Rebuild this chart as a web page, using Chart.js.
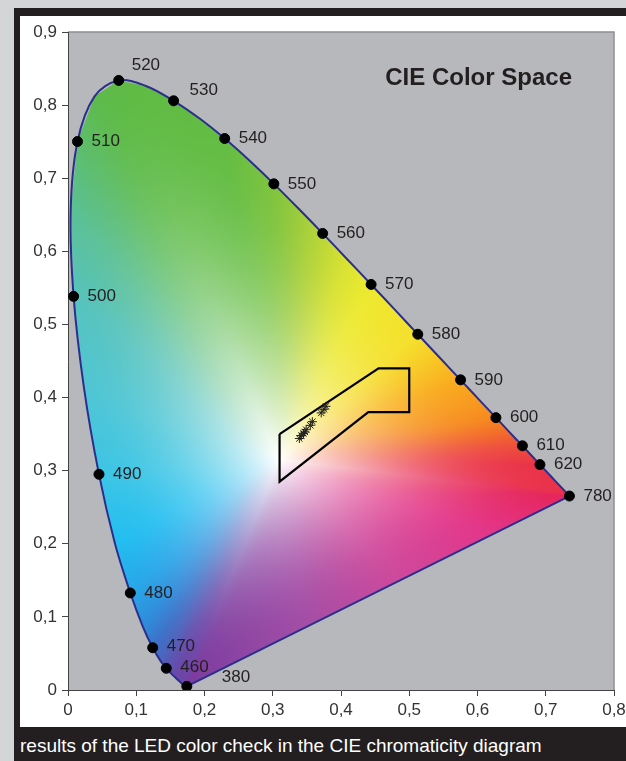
<!DOCTYPE html>
<html>
<head>
<meta charset="utf-8">
<script src="https://cdn.jsdelivr.net/npm/chart.js@4/dist/chart.umd.min.js"></script>
<style>
html, body { margin: 0; padding: 0; width: 626px; height: 761px; overflow: hidden; background: #d4d5d7; font-family: "Liberation Sans", Arial, sans-serif; }
#frame { position: absolute; left: 14px; top: 8px; width: 612px; height: 753px; background: #231f20; }
#panel { position: absolute; left: 20px; top: 16px; width: 606px; height: 711px; background: #fff; }
#c { position: absolute; left: 20px; top: 16px; }
#caption { position: absolute; left: 20px; top: 735px; color: #fff; font-size: 19px; white-space: nowrap; }
</style>
</head>
<body>
<div id="frame"></div>
<div id="panel"></div>
<canvas id="c" width="606" height="711"></canvas>
<div id="caption">results of the LED color check in the CIE chromaticity diagram</div>
<script>
// spectral locus (CIE 1931)
var locusWl = [380, 385, 390, 395, 400, 405, 410, 415, 420, 425, 430, 435, 440, 445, 450, 455, 460, 465, 470, 475,
  480, 485, 490, 495, 500, 505, 510, 515, 520, 525, 530, 535, 540, 545, 550, 555, 560, 565, 570, 575,
  580, 585, 590, 595, 600, 605, 610, 615, 620, 625, 630, 640, 650, 660, 680, 780];
var locusX = [0.1741, 0.1740, 0.1738, 0.1736, 0.1733, 0.1730, 0.1726, 0.1721, 0.1714, 0.1703, 0.1689, 0.1669, 0.1644, 0.1611, 0.1566, 0.1510, 0.1440, 0.1355, 0.1241, 0.1096,
  0.0913, 0.0687, 0.0454, 0.0235, 0.0082, 0.0039, 0.0139, 0.0389, 0.0743, 0.1142, 0.1547, 0.1929, 0.2296, 0.2658, 0.3016, 0.3373, 0.3731, 0.4087, 0.4441, 0.4788,
  0.5125, 0.5448, 0.5752, 0.6029, 0.6270, 0.6482, 0.6658, 0.6801, 0.6915, 0.7006, 0.7079, 0.7190, 0.7260, 0.7300, 0.7334, 0.7347];
var locusY = [0.0050, 0.0050, 0.0049, 0.0049, 0.0048, 0.0048, 0.0048, 0.0048, 0.0051, 0.0058, 0.0069, 0.0086, 0.0109, 0.0138, 0.0177, 0.0227, 0.0297, 0.0399, 0.0578, 0.0868,
  0.1327, 0.2007, 0.2950, 0.4127, 0.5384, 0.6548, 0.7502, 0.8120, 0.8338, 0.8262, 0.8059, 0.7816, 0.7543, 0.7243, 0.6923, 0.6589, 0.6245, 0.5896, 0.5547, 0.5202,
  0.4866, 0.4544, 0.4242, 0.3965, 0.3725, 0.3514, 0.3340, 0.3197, 0.3083, 0.2993, 0.2920, 0.2809, 0.2740, 0.2700, 0.2666, 0.2653];

// labelled wavelengths
var markWl = [380, 460, 470, 480, 490, 500, 510, 520, 530, 540, 550, 560, 570, 580, 590, 600, 610, 620, 780];

// tolerance area
var boxX = [0.31, 0.31, 0.44, 0.50, 0.50, 0.455, 0.31];
var boxY = [0.35, 0.285, 0.38, 0.38, 0.44, 0.44, 0.35];

// measured LEDs
var ledX = [0.339, 0.342, 0.345, 0.347, 0.349, 0.355, 0.358, 0.371, 0.375, 0.378];
var ledY = [0.344, 0.348, 0.351, 0.353, 0.356, 0.362, 0.367, 0.379, 0.384, 0.388];

var xTicks = ['0', '0,1', '0,2', '0,3', '0,4', '0,5', '0,6', '0,7', '0,8'];
var yTicks = ['0', '0,1', '0,2', '0,3', '0,4', '0,5', '0,6', '0,7', '0,8', '0,9'];

var whiteX = 0.31, whiteY = 0.315;

// fill colours along the border
var wlStops = [[380, '#7b3c9f'], [450, '#6a47a8'], [460, '#5c55b1'], [470, '#3c72c8'], [475, '#2f8cdb'], [480, '#28a6e8'],
  [485, '#23bef0'], [490, '#3dc5e5'], [495, '#50c6d4'], [500, '#57c3bd'], [505, '#5bc097'], [510, '#5dbd6c'],
  [515, '#5ebb4c'], [520, '#5fbb45'], [540, '#64bd43'], [550, '#80c43f'], [555, '#9bcb3c'], [560, '#bad637'],
  [565, '#d9e232'], [570, '#ede92f'], [580, '#f5e02c'], [585, '#f8c624'], [590, '#f9ab1f'], [600, '#f6891f'],
  [605, '#f26a2c'], [610, '#ee4f3c'], [620, '#ea3448'], [780, '#e6255a']];
var purpleStops = [[0, '#e6255a'], [0.2, '#e3368a'], [0.45, '#cd4a9c'], [0.7, '#a24ea6'], [1, '#7b3c9f']];

var labelShift = { 380: [35, -9], 520: [13, -15], 530: [16, -10], 470: [14, -1], 460: [14, -1] };

function hex(h) {
  return [parseInt(h.substr(1, 2), 16), parseInt(h.substr(3, 2), 16), parseInt(h.substr(5, 2), 16)];
}
function stopColor(stops, v) {
  for (var i = 0; i < stops.length - 1; i++) {
    if (v <= stops[i + 1][0]) {
      var a = hex(stops[i][1]), b = hex(stops[i + 1][1]);
      var u = (v - stops[i][0]) / (stops[i + 1][0] - stops[i][0]);
      return [a[0] + (b[0] - a[0]) * u, a[1] + (b[1] - a[1]) * u, a[2] + (b[2] - a[2]) * u];
    }
  }
  return hex(stops[stops.length - 1][1]);
}
function fmt(list) {
  return function (v) {
    return list[Math.round(v * 10)];
  };
}

var locusPts = locusX.map(function (x, i) { return { x: x, y: locusY[i] }; });
var purplePts = [{ x: locusX[locusX.length - 1], y: locusY[locusY.length - 1] }, { x: locusX[0], y: locusY[0] }];
var markPts = markWl.map(function (w) {
  var i = locusWl.indexOf(w);
  return { x: locusX[i], y: locusY[i], wl: w };
});
var boxPts = boxX.map(function (x, i) { return { x: x, y: boxY[i] }; });
var ledPts = ledX.map(function (x, i) { return { x: x, y: ledY[i] }; });

var bgPlugin = {
  id: 'plotBg',
  beforeDraw: function (chart) {
    var ctx = chart.ctx, a = chart.chartArea;
    ctx.save();
    ctx.fillStyle = '#b7b8bb';
    ctx.fillRect(a.left, a.top, a.right - a.left, a.bottom - a.top);
    ctx.strokeStyle = '#8e8f92';
    ctx.lineWidth = 1.5;
    ctx.beginPath();
    ctx.moveTo(a.left, a.top);
    ctx.lineTo(a.right, a.top);
    ctx.lineTo(a.right, a.bottom);
    ctx.stroke();
    ctx.restore();
  }
};

var fillPlugin = {
  id: 'gamutFill',
  beforeDatasetsDraw: function (chart) {
    var ctx = chart.ctx, a = chart.chartArea, sx = chart.scales.x, sy = chart.scales.y;
    var ring = locusX.map(function (x, i) {
      return { px: sx.getPixelForValue(x), py: sy.getPixelForValue(locusY[i]), c: stopColor(wlStops, locusWl[i]) };
    });
    var p0 = ring[ring.length - 1], p1 = ring[0];
    for (var k = 1; k < 16; k++) {
      var u = k / 16;
      ring.push({ px: p0.px + (p1.px - p0.px) * u, py: p0.py + (p1.py - p0.py) * u, c: stopColor(purpleStops, u) });
    }
    var wx = sx.getPixelForValue(whiteX), wy = sy.getPixelForValue(whiteY);
    var N = 4096, binR = new Float32Array(N), binC = new Float32Array(N * 3);
    for (var b = 0; b < N; b++) {
      var th = (b + 0.5) / N * 2 * Math.PI - Math.PI;
      var dx = Math.cos(th), dy = Math.sin(th), best = Infinity, col = [255, 255, 255];
      for (var i = 0; i < ring.length; i++) {
        var A = ring[i], B = ring[(i + 1) % ring.length];
        var ex = B.px - A.px, ey = B.py - A.py;
        var den = dx * ey - dy * ex;
        if (Math.abs(den) < 1e-9) continue;
        var ax = A.px - wx, ay = A.py - wy;
        var s = (ax * ey - ay * ex) / den;
        var t = (ax * dy - ay * dx) / den;
        if (s > 0 && t >= 0 && t <= 1 && s < best) {
          best = s;
          col = [A.c[0] + (B.c[0] - A.c[0]) * t, A.c[1] + (B.c[1] - A.c[1]) * t, A.c[2] + (B.c[2] - A.c[2]) * t];
        }
      }
      binR[b] = best;
      binC[b * 3] = col[0]; binC[b * 3 + 1] = col[1]; binC[b * 3 + 2] = col[2];
    }
    // prefix sums over three turns, for angular blur near the white point
    var pre = new Float64Array((3 * N + 1) * 3);
    for (var j = 0; j < 3 * N; j++) {
      var m = j % N;
      for (var ch = 0; ch < 3; ch++) pre[(j + 1) * 3 + ch] = pre[j * 3 + ch] + binC[m * 3 + ch];
    }
    var w = Math.round(a.right - a.left), h = Math.round(a.bottom - a.top);
    var off = document.createElement('canvas');
    off.width = w; off.height = h;
    var octx = off.getContext('2d');
    var img = octx.createImageData(w, h), d = img.data;
    for (var yy = 0; yy < h; yy++) {
      for (var xx = 0; xx < w; xx++) {
        var qx = a.left + xx + 0.5 - wx, qy = a.top + yy + 0.5 - wy;
        var r = Math.sqrt(qx * qx + qy * qy);
        var bi = Math.floor((Math.atan2(qy, qx) + Math.PI) / (2 * Math.PI) * N);
        if (bi >= N) bi = N - 1;
        var tt = Math.min(r / binR[bi], 1);
        var hw = Math.round(380 * Math.pow(1 - tt, 2));
        var lo = bi + N - hw, hi = bi + N + hw + 1, cnt = hi - lo;
        var sat = 1 - Math.pow(1 - tt, 1.9);
        var o = (yy * w + xx) * 4;
        for (var c2 = 0; c2 < 3; c2++) {
          var cv = (pre[hi * 3 + c2] - pre[lo * 3 + c2]) / cnt;
          d[o + c2] = 255 + (cv - 255) * sat;
        }
        d[o + 3] = 255;
      }
    }
    octx.putImageData(img, 0, 0);
    ctx.save();
    ctx.beginPath();
    ring.forEach(function (p, i) { if (i === 0) ctx.moveTo(p.px, p.py); else ctx.lineTo(p.px, p.py); });
    ctx.closePath();
    ctx.clip();
    ctx.drawImage(off, a.left, a.top, w, h);
    ctx.restore();
  }
};

var textPlugin = {
  id: 'texts',
  afterDatasetsDraw: function (chart) {
    var ctx = chart.ctx, a = chart.chartArea, sx = chart.scales.x, sy = chart.scales.y;
    ctx.save();
    ctx.fillStyle = '#231f20';
    ctx.font = '17px "Liberation Sans", Arial, sans-serif';
    ctx.textAlign = 'left';
    ctx.textBaseline = 'middle';
    markPts.forEach(function (p) {
      var sh = labelShift[p.wl] || [14, 0];
      ctx.fillText(String(p.wl), sx.getPixelForValue(p.x) + sh[0], sy.getPixelForValue(p.y) + sh[1]);
    });
    ctx.font = 'bold 24px "Liberation Sans", Arial, sans-serif';
    ctx.textAlign = 'right';
    ctx.fillText('CIE Color Space', a.right - 42, a.top + 46);
    ctx.restore();
  }
};

new Chart(document.getElementById('c'), {
  type: 'scatter',
  data: {
    datasets: [
      { label: 'wavelength', data: markPts, pointRadius: 5, pointHoverRadius: 5, backgroundColor: '#000', borderColor: '#000' },
      { label: 'LED', data: ledPts, pointStyle: 'star', pointRadius: 4.5, pointHoverRadius: 4.5, borderColor: '#222', borderWidth: 1, backgroundColor: '#222' },
      { label: 'area', data: boxPts, showLine: true, borderColor: '#000', borderWidth: 2.2, pointRadius: 0, fill: false },
      { label: 'locus', data: locusPts, showLine: true, tension: 0.35, borderColor: '#2b2e8c', borderWidth: 2, pointRadius: 0, fill: false },
      { label: 'purple line', data: purplePts, showLine: true, borderColor: '#2b2e8c', borderWidth: 2, pointRadius: 0, fill: false }
    ]
  },
  options: {
    responsive: false,
    animation: false,
    events: [],
    layout: { padding: { left: 0, right: 12, top: 16, bottom: 7 } },
    plugins: { legend: { display: false }, tooltip: { enabled: false } },
    scales: {
      x: {
        type: 'linear', min: 0, max: 0.8,
        afterFit: function (s) { s.height = 30; s.paddingLeft = 0; s.paddingRight = 0; },
        ticks: { stepSize: 0.1, callback: fmt(xTicks), color: '#333', padding: 4, maxRotation: 0, font: { size: 17, family: '"Liberation Sans", Arial, sans-serif' } },
        grid: { drawOnChartArea: false, drawTicks: true, tickLength: 6, color: '#444' },
        border: { color: '#444', width: 1 }
      },
      y: {
        type: 'linear', min: 0, max: 0.9,
        afterFit: function (s) { s.width = 48; s.paddingTop = 0; s.paddingBottom = 0; },
        ticks: { stepSize: 0.1, callback: fmt(yTicks), color: '#333', padding: 5, font: { size: 17, family: '"Liberation Sans", Arial, sans-serif' } },
        grid: { drawOnChartArea: false, drawTicks: true, tickLength: 6, color: '#444' },
        border: { color: '#444', width: 1 }
      }
    }
  },
  plugins: [bgPlugin, fillPlugin, textPlugin]
});
</script>
</body>
</html>
